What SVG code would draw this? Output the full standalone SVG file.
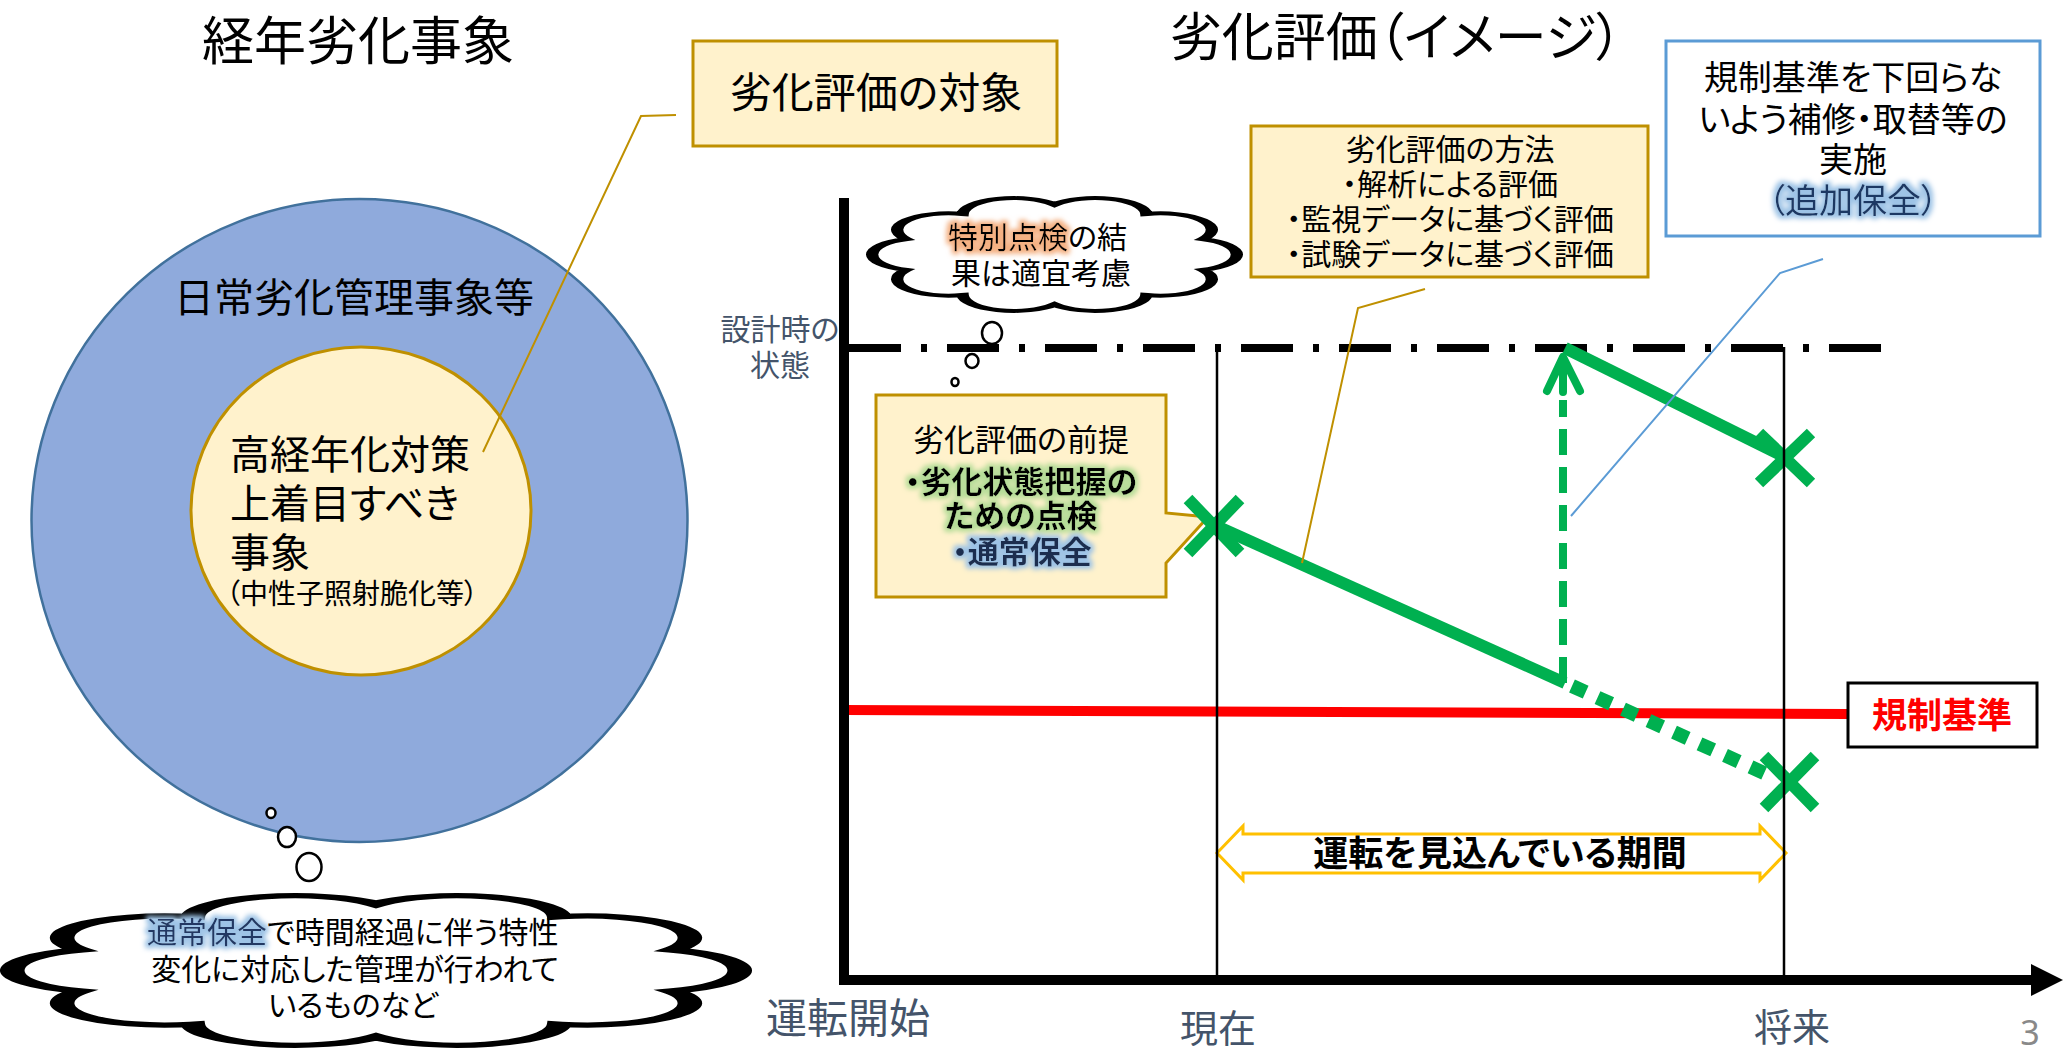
<svg xmlns="http://www.w3.org/2000/svg" width="2065" height="1051" viewBox="0 0 2065 1051">
<defs>
<style>
.t{font-family:"Noto Sans CJK JP","Noto Sans",sans-serif;font-feature-settings:"palt"}
.m{text-anchor:middle}
.b{font-weight:bold}
.lab{fill:#44546A}
.box{fill:#FFF2CC;stroke:#BF9000;stroke-width:3}
.cloud{fill:#fff;stroke:#000;stroke-width:3;vector-effect:non-scaling-stroke}
.bub{fill:#fff;stroke:#000;stroke-width:2.5}
.go{filter:url(#glowO)}
.gg{filter:url(#glowG)}
.gb{filter:url(#glowB)}
.gr{stroke:#00B050;fill:none}
.x{stroke:#00B050;stroke-width:12;fill:none}
.vl{stroke:#000;stroke-width:2.5;fill:none}
</style>
<filter id="glowO" x="-10%" y="-50%" width="120%" height="200%">
<feMorphology in="SourceAlpha" operator="dilate" radius="2.5" result="d"/>
<feGaussianBlur in="d" stdDeviation="2.5" result="bl"/>
<feFlood flood-color="#F4B183"/><feComposite in2="bl" operator="in" result="g"/>
<feMerge><feMergeNode in="g"/><feMergeNode in="SourceGraphic"/></feMerge>
</filter>
<filter id="glowG" x="-10%" y="-50%" width="120%" height="200%">
<feMorphology in="SourceAlpha" operator="dilate" radius="2.5" result="d"/>
<feGaussianBlur in="d" stdDeviation="2.5" result="bl"/>
<feFlood flood-color="#B5DC98"/><feComposite in2="bl" operator="in" result="g"/>
<feMerge><feMergeNode in="g"/><feMergeNode in="SourceGraphic"/></feMerge>
</filter>
<filter id="glowB" x="-10%" y="-50%" width="120%" height="200%">
<feMorphology in="SourceAlpha" operator="dilate" radius="2.5" result="d"/>
<feGaussianBlur in="d" stdDeviation="2.5" result="bl"/>
<feFlood flood-color="#9DC3E6"/><feComposite in2="bl" operator="in" result="g"/>
<feMerge><feMergeNode in="g"/><feMergeNode in="SourceGraphic"/></feMerge>
</filter>
<path id="cl" d="M13.86,38.26 A12.5,12.5 0 0 1 27.66,19.26 A12.5,12.5 0 0 1 50,12 A12.5,12.5 0 0 1 72.34,19.26 A12.5,12.5 0 0 1 86.14,38.26 A12.5,12.5 0 0 1 86.14,61.74 A12.5,12.5 0 0 1 72.34,80.74 A12.5,12.5 0 0 1 50,88 A12.5,12.5 0 0 1 27.66,80.74 A12.5,12.5 0 0 1 13.86,61.74 A12.5,12.5 0 0 1 13.86,38.26 Z"/>
</defs>
<rect width="2065" height="1051" fill="#fff"/>

<!-- titles -->
<g id="title-left"><text class="t m" x="358" y="60" font-size="52">経年劣化事象</text></g>
<g id="title-right"><text class="t m" x="1396" y="56" font-size="52">劣化評価（イメージ）</text></g>

<!-- left side -->
<g id="outer-circle">
<ellipse cx="359.5" cy="520.5" rx="328" ry="321.5" fill="#8FAADC" stroke="#41719C" stroke-width="2.5"/>
<text class="t m" x="354" y="312" font-size="40">日常劣化管理事象等</text>
</g>
<g id="inner-circle">
<ellipse cx="361" cy="511" rx="170" ry="164" fill="#FFF2CC" stroke="#BF9000" stroke-width="3"/>
<text class="t" x="230" y="469" font-size="40">高経年化対策</text>
<text class="t" x="230" y="518" font-size="40">上着目すべき</text>
<text class="t" x="230" y="567" font-size="40">事象</text>
<text class="t" x="226" y="604" font-size="28">（中性子照射脆化等）</text>
</g>
<g id="target-box">
<rect class="box" x="693" y="41" width="364" height="105"/>
<text class="t m" x="876" y="108" font-size="42">劣化評価の対象</text>
</g>
<g id="cloud-normal">
<ellipse class="bub" cx="271" cy="813" rx="4.5" ry="5"/>
<ellipse class="bub" cx="287" cy="837" rx="9" ry="10"/>
<ellipse class="bub" cx="309" cy="867" rx="12.5" ry="14"/>
<use href="#cl" class="cloud" transform="translate(-34.1,883.2) scale(8.202,1.746)"/>
<text class="t gb" x="147" y="943" font-size="30" fill="#203864">通常保全</text>
<text class="t" x="267" y="943" font-size="30">で時間経過に伴う特性</text>
<text class="t m" x="355" y="980" font-size="30">変化に対応した管理が行われて</text>
<text class="t m" x="353" y="1016" font-size="30">いるものなど</text>
</g>

<!-- chart base lines -->
<g id="design-line"><path d="M849,348 H1889" stroke="#000" stroke-width="8" stroke-dasharray="52 20 6 20" fill="none"/></g>
<g id="regulation-line"><path d="M844,710 L1848,714" stroke="#FF0000" stroke-width="10" fill="none"/></g>

<!-- callouts -->
<g id="premise-callout">
<path class="box" d="M876,395 H1166 V513 L1208,517 L1166,563 V597 H876 Z"/>
<text class="t m" x="1021" y="451" font-size="31">劣化評価の前提</text>
<text class="t m b gg" x="1021" y="493" font-size="31">・劣化状態把握の</text>
<text class="t m b gg" x="1021" y="527" font-size="31">ための点検</text>
<text class="t m b gb" x="1022" y="563" font-size="31" fill="#1F2D4F">・通常保全</text>
</g>
<g id="method-box">
<rect class="box" x="1251" y="126" width="397" height="151"/>
<text class="t m" x="1450" y="160" font-size="30">劣化評価の方法</text>
<text class="t m" x="1450" y="195" font-size="30">・解析による評価</text>
<text class="t m" x="1450" y="230" font-size="30">・監視データに基づく評価</text>
<text class="t m" x="1450" y="265" font-size="30">・試験データに基づく評価</text>
</g>
<g id="repair-box">
<rect x="1666" y="41" width="374" height="195" fill="#fff" stroke="#5B9BD5" stroke-width="3"/>
<text class="t m" x="1853" y="90" font-size="34">規制基準を下回らな</text>
<text class="t m" x="1853" y="132" font-size="34">いよう補修・取替等の</text>
<text class="t m" x="1853" y="172" font-size="34">実施</text>
<text class="t m gb" x="1853" y="213" font-size="34" fill="#1F3864">（追加保全）</text>
</g>
<g id="regulation-box">
<rect x="1848" y="683" width="189" height="64" fill="#fff" stroke="#000" stroke-width="3"/>
<text class="t m b" x="1942" y="728" font-size="35" fill="#FF0000">規制基準</text>
</g>
<g id="period-arrow">
<polygon points="1217,853 1243,826 1243,834 1760,834 1760,826 1786,853 1760,880 1760,873 1243,873 1243,880" fill="#fff" stroke="#FFC000" stroke-width="3"/>
<text class="t m b" x="1500" y="866" font-size="35">運転を見込んでいる期間</text>
</g>

<!-- connectors / chart lines -->
<g id="connectors">
<path class="gr" d="M1214,525 L1565,683" stroke-width="12"/>
<path class="gr" d="M1563,683 V400" stroke-width="8" stroke-dasharray="26 12"/>
<path class="gr" d="M1547,391 L1563,357 L1580,391 M1563,358 V392" stroke-width="8" stroke-linecap="round" stroke-linejoin="round"/>
<path class="gr" d="M1565,348 L1785,457" stroke-width="12"/>
<path class="gr" d="M1572,686 L1775,778" stroke-width="14" stroke-dasharray="15 13"/>
<path class="x" d="M1188,499 L1240,553 M1240,499 L1188,553"/>
<path class="x" d="M1759,433 L1811,483 M1811,433 L1759,483"/>
<path class="x" d="M1764,756 L1815,808 M1815,756 L1764,808"/>
<path class="vl" d="M1217,347 V980 M1784,347 V980"/>
<path d="M844,198 V985 M839,980 H2034" stroke="#000" stroke-width="10" fill="none"/>
<polygon points="2031,964 2063,980 2031,996" fill="#000"/>
<polyline points="483,452 641,116 676,115" stroke="#BF9000" stroke-width="2" fill="none"/>
<polyline points="1425,289 1358,308 1302,563" stroke="#BF9000" stroke-width="2" fill="none"/>
<polyline points="1823,259 1780,273 1571,516" stroke="#5B9BD5" stroke-width="2" fill="none"/>
</g>

<g id="cloud-special">
<use href="#cl" class="cloud" transform="translate(848.9,188.6) scale(4.112,1.318)"/>
<ellipse class="bub" cx="992" cy="333" rx="10" ry="11"/>
<ellipse class="bub" cx="972" cy="361" rx="6.5" ry="7"/>
<ellipse class="bub" cx="955" cy="382" rx="3.5" ry="4"/>
<text class="t go" x="948" y="248" font-size="30">特別点検</text>
<text class="t" x="1068" y="248" font-size="30">の結</text>
<text class="t m" x="1041" y="284" font-size="30">果は適宜考慮</text>
</g>

<!-- axis labels -->
<g id="labels">
<text class="t m lab" x="780" y="340" font-size="30">設計時の</text>
<text class="t m lab" x="780" y="376" font-size="30">状態</text>
<text class="t m lab" x="848" y="1033" font-size="41">運転開始</text>
<text class="t m lab" x="1218" y="1042" font-size="38">現在</text>
<text class="t m lab" x="1792" y="1041" font-size="38">将来</text>
<text class="m" x="2030" y="1045" font-size="34" fill="#898989" font-family="Noto Sans, sans-serif">3</text>
</g>
</svg>
